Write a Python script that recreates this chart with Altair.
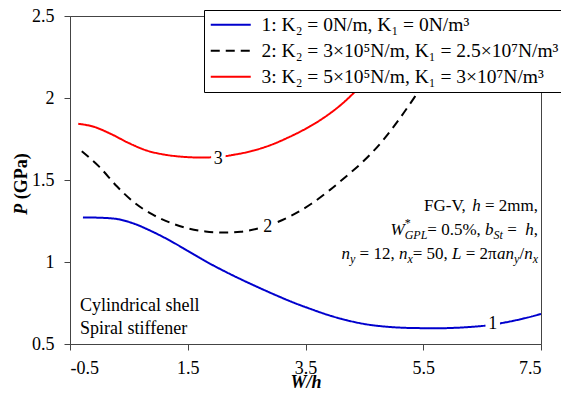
import altair as alt
import pandas as pd

# ---------------- data ----------------
series_names = [
    "1: K\u2082 = 0N/m, K\u2081 = 0N/m\u00b3",
    "2: K\u2082 = 3\u00d710\u2075N/m, K\u2081 = 2.5\u00d710\u2077N/m\u00b3",
    "3: K\u2082 = 5\u00d710\u2075N/m, K\u2081 = 3\u00d710\u2077N/m\u00b3",
]

w1 = [-0.28, 0.0, 0.3, 0.6, 0.9, 1.2, 1.5, 1.8, 2.1, 2.4, 2.7, 3.0, 3.3, 3.6,
      3.9, 4.2, 4.5, 4.8, 5.1, 5.4, 5.7, 6.0, 6.3, 6.6, 6.9, 7.2, 7.5]
p1 = [1.272, 1.270, 1.262, 1.232, 1.185, 1.130, 1.068, 1.005, 0.948, 0.895,
      0.845, 0.797, 0.752, 0.712, 0.675, 0.645, 0.622, 0.608, 0.600, 0.597,
      0.596, 0.598, 0.604, 0.614, 0.632, 0.655, 0.683]

w2 = [-0.3, 0.0, 0.3, 0.6, 0.9, 1.2, 1.5, 1.8, 2.1, 2.4, 2.7, 3.0, 3.3, 3.6,
      3.9, 4.2, 4.5, 4.8, 5.1, 5.4, 5.7]
p2 = [1.675, 1.580, 1.460, 1.360, 1.290, 1.240, 1.205, 1.186, 1.180, 1.185,
      1.205, 1.240, 1.290, 1.355, 1.435, 1.525, 1.620, 1.735, 1.875, 2.030,
      2.190]

w3 = [-0.36, -0.1, 0.2, 0.5, 0.8, 1.1, 1.4, 1.7, 2.0, 2.3, 2.6, 2.9, 3.2, 3.5,
      3.8, 4.1, 4.4, 4.7]
p3 = [1.843, 1.825, 1.780, 1.725, 1.680, 1.655, 1.642, 1.637, 1.640, 1.655,
      1.678, 1.712, 1.758, 1.812, 1.877, 1.958, 2.060, 2.180]

label_text = ["1", "2", "3"]
label_w = [6.68, 2.86, 2.02]
label_p = [0.622, 1.212, 1.630]

x_ticks = [-0.5, 1.5, 3.5, 5.5, 7.5]
y_ticks = [0.5, 1.0, 1.5, 2.0, 2.5]

colors = ["#0000CD", "#000000", "#FF0000"]
dashes = [[1, 0], [9, 6], [1, 0]]

FONT = "Liberation Serif"

rows = []
for name, ws, ps in zip(series_names, [w1, w2, w3], [p1, p2, p3]):
    for w, p in zip(ws, ps):
        rows.append({"series": name, "W": w, "P": p})
df = pd.DataFrame(rows)
lab_df = pd.DataFrame({"t": label_text, "W": label_w, "P": label_p})

xscale = alt.Scale(domain=[-0.5, 7.5], nice=False, zero=False)
yscale = alt.Scale(domain=[0.5, 2.5], nice=False, zero=False)

legend = alt.Legend(
    title=None, orient="none", legendX=134, legendY=-6,
    symbolType="M-2.5,0H2.5", symbolSize=256, symbolStrokeWidth=2,
    symbolOffset=12, labelOffset=21, padding=5, rowPadding=5,
    labelFont=FONT, labelFontSize=19.5, labelColor="black", labelLimit=500,
    fillColor="white", strokeColor="black", cornerRadius=0,
)

lines = alt.Chart(df).mark_line(strokeWidth=2, interpolate="monotone", clip=True).encode(
    x=alt.X("W:Q", scale=xscale,
            axis=alt.Axis(values=x_ticks, title="W/h", labelExpr="'' + datum.value",
                          titleFontStyle="italic", titleFontWeight="bold",
                          titleY=43, titleBaseline="alphabetic", labelPadding=9)),
    y=alt.Y("P:Q", scale=yscale,
            axis=alt.Axis(values=y_ticks, title=None, labelExpr="'' + datum.value",
                          labelPadding=10)),
    color=alt.Color("series:N", scale=alt.Scale(domain=series_names, range=colors), legend=legend),
    strokeDash=alt.StrokeDash("series:N", scale=alt.Scale(domain=series_names, range=dashes), legend=legend),
)

boxes = alt.Chart(lab_df).mark_square(size=210, color="white", opacity=1).encode(
    x=alt.X("W:Q", scale=xscale), y=alt.Y("P:Q", scale=yscale))
labels = alt.Chart(lab_df).mark_text(font=FONT, fontSize=18, color="black",
                                     baseline="middle", align="center").encode(
    x=alt.X("W:Q", scale=xscale), y=alt.Y("P:Q", scale=yscale), text="t:N")

# ---------------- annotation text (rich text built from segments) ----------------
REG = {" ": 250, ",": 250, "-": 333, ".": 250, "%": 833, "/": 278, "=": 564,
       "F": 556, "G": 722, "V": 722, "m": 778, "\u03c0": 530, "*": 500}
ITA = {"h": 500, "W": 833, "G": 722, "P": 611, "L": 556, "b": 500, "S": 500,
       "t": 278, "n": 500, "y": 444, "x": 444, "a": 500}


def seg_width(txt, italic, size):
    tab = ITA if italic else REG
    return sum(tab.get(c, 500) for c in txt) * size / 1000.0


ANN_SIZE = 17
SUB_SIZE = 12
ann_lines = [
    [("FG-V, ", False, "b"), ("h", True, "b"), (" = 2mm,", False, "b")],
    [("W", True, "b"), ("*", False, "sup0"), ("GPL", True, "sub"), ("= 0.5%, ", False, "b"),
     ("b", True, "b"), ("St", True, "sub"), (" =  ", False, "b"), ("h", True, "b"), (",", False, "b")],
    [("n", True, "b"), ("y", True, "sub"), (" = 12, ", False, "b"), ("n", True, "b"),
     ("x", True, "sub"), ("= 50, ", False, "b"), ("L", True, "b"), (" = 2\u03c0", False, "b"),
     ("an", True, "b"), ("y", True, "sub"), ("/", False, "b"), ("n", True, "b"), ("x", True, "sub")],
]
ann_right = 468
ann_base = [195, 219, 243]

text_layers = []
for segs, base in zip(ann_lines, ann_base):
    total = 0.0
    for txt, it, kind in segs:
        size = ANN_SIZE if kind == "b" else SUB_SIZE
        if kind != "sup0":
            total += seg_width(txt, it, size)
    x = ann_right - total
    for txt, it, kind in segs:
        size = ANN_SIZE if kind == "b" else SUB_SIZE
        dy = 0 if kind == "b" else (4 if kind == "sub" else -8)
        lead = len(txt) - len(txt.lstrip(" "))
        shown = txt.strip(" ")
        if shown:
            text_layers.append(
                alt.Chart(pd.DataFrame({"t": [shown]})).mark_text(
                    font=FONT, fontSize=size, fontStyle="italic" if it else "normal",
                    align="left", baseline="alphabetic", color="black"
                ).encode(x=alt.value(x + lead * 0.25 * size), y=alt.value(base + dy), text="t:N")
            )
        if kind != "sup0":
            x += seg_width(txt, it, size)

for txt, yy in [("Cylindrical shell", 295), ("Spiral stiffener", 318)]:
    text_layers.append(
        alt.Chart(pd.DataFrame({"t": [txt]})).mark_text(
            font=FONT, fontSize=18, align="left", baseline="alphabetic", color="black"
        ).encode(x=alt.value(10), y=alt.value(yy), text="t:N")
    )

# y-axis title "P (GPa)" with italic P, rotated
TSIZE = 18
title_x = -48
title_bottom = 168 + (611 + 250 + 333 + 778 + 611 + 500 + 333) * TSIZE / 2000.0
for txt, it, off in [("P", True, 0.0), ("(GPa)", False, (611 + 250) * TSIZE / 1000.0)]:
    text_layers.append(
        alt.Chart(pd.DataFrame({"t": [txt]})).mark_text(
            font=FONT, fontSize=TSIZE, fontWeight="bold", fontStyle="italic" if it else "normal",
            angle=270, align="left", baseline="middle", color="black"
        ).encode(x=alt.value(title_x), y=alt.value(title_bottom - off), text="t:N")
    )

chart = alt.layer(lines, boxes, labels, *text_layers).properties(
    width=471, height=328,
    autosize=alt.AutoSizeParams(type="none"),
    padding={"left": 62, "top": 8, "right": 20, "bottom": 44},
).configure_view(stroke="#444", strokeWidth=1).configure_axis(
    grid=False, domainColor="#444", tickColor="#444", tickSize=6,
    labelFont=FONT, labelFontSize=18, labelColor="black",
    titleFont=FONT, titleFontSize=18, titleColor="black",
)

chart.save("out.html", embed_options={"renderer": "svg", "actions": False})
